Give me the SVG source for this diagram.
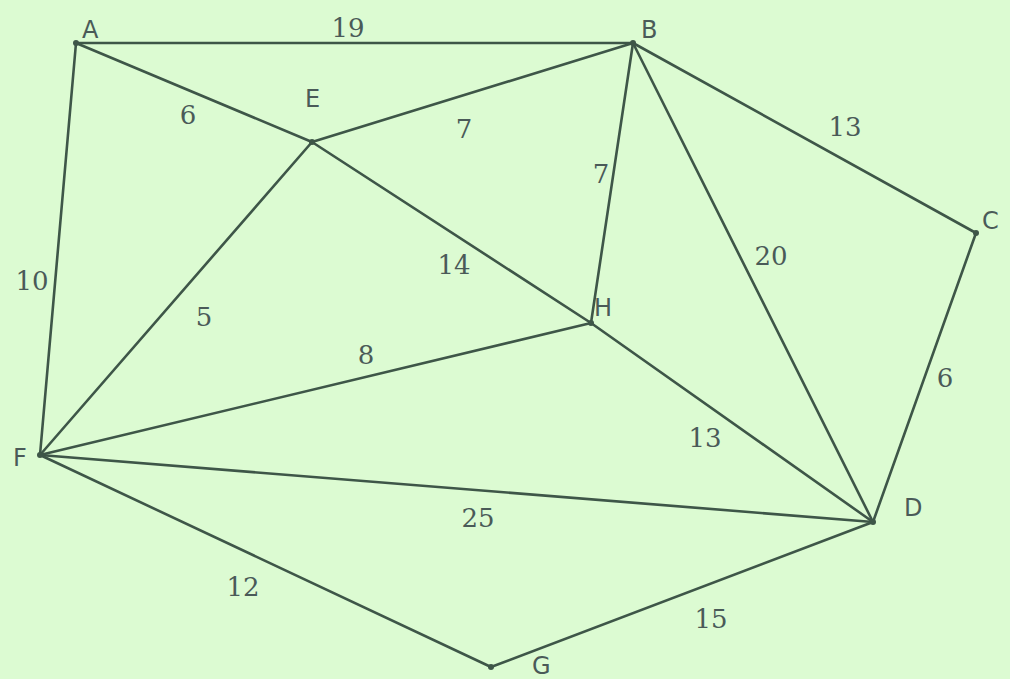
<svg xmlns="http://www.w3.org/2000/svg" width="1010" height="679" viewBox="0 0 1010 679">
<style>
.e{stroke:#3e5648;stroke-width:2.6;stroke-linecap:round}
.d{fill:#3e5648}
.n{font-family:"DejaVu Sans","Liberation Sans",sans-serif;font-size:24px;fill:#4a5a58}
.w{font-family:"DejaVu Serif","Liberation Serif",serif;font-size:26px;fill:#4a5a58;text-anchor:middle}
</style>
<rect width="1010" height="679" fill="#dcfbd2"/>
<g id="connectors">
<line class="e" x1="76" y1="43" x2="633" y2="43"/>
<line class="e" x1="76" y1="43" x2="312" y2="142"/>
<line class="e" x1="76" y1="43" x2="40" y2="455"/>
<line class="e" x1="312" y1="142" x2="633" y2="43"/>
<line class="e" x1="312" y1="142" x2="40" y2="455"/>
<line class="e" x1="312" y1="142" x2="591" y2="323"/>
<line class="e" x1="633" y1="43" x2="591" y2="323"/>
<line class="e" x1="633" y1="43" x2="976" y2="233"/>
<line class="e" x1="633" y1="43" x2="873" y2="522"/>
<line class="e" x1="976" y1="233" x2="873" y2="522"/>
<line class="e" x1="591" y1="323" x2="40" y2="455"/>
<line class="e" x1="591" y1="323" x2="873" y2="522"/>
<line class="e" x1="40" y1="455" x2="873" y2="522"/>
<line class="e" x1="40" y1="455" x2="491" y2="667"/>
<line class="e" x1="491" y1="667" x2="873" y2="522"/>
<text class="w" x="348" y="37">19</text>
<text class="w" x="188" y="124">6</text>
<text class="w" x="464" y="138">7</text>
<text class="w" x="845" y="136">13</text>
<text class="w" x="601" y="183">7</text>
<text class="w" x="771" y="265">20</text>
<text class="w" x="32" y="290" fill="#2a3030">10</text>
<text class="w" x="454" y="274">14</text>
<text class="w" x="204" y="326">5</text>
<text class="w" x="366" y="364">8</text>
<text class="w" x="945" y="387" fill="#2a3030">6</text>
<text class="w" x="705" y="447">13</text>
<text class="w" x="478" y="527">25</text>
<text class="w" x="243" y="596">12</text>
<text class="w" x="711" y="628">15</text>
</g>
<g id="A"><circle class="d" cx="76" cy="43" r="3"/><text class="n" x="82" y="38">A</text></g>
<g id="B"><circle class="d" cx="633" cy="43" r="3"/><text class="n" x="641" y="38">B</text></g>
<g id="E"><circle class="d" cx="312" cy="142" r="3"/><text class="n" x="305" y="107">E</text></g>
<g id="C"><circle class="d" cx="976" cy="233" r="3"/><text class="n" x="982" y="229">C</text></g>
<g id="H"><circle class="d" cx="591" cy="323" r="3"/><text class="n" x="594" y="316">H</text></g>
<g id="F"><circle class="d" cx="40" cy="455" r="3"/><text class="n" x="13" y="466">F</text></g>
<g id="D"><circle class="d" cx="873" cy="522" r="3"/><text class="n" x="904" y="516">D</text></g>
<g id="G"><circle class="d" cx="491" cy="667" r="3"/><text class="n" x="532" y="674">G</text></g>
</svg>
